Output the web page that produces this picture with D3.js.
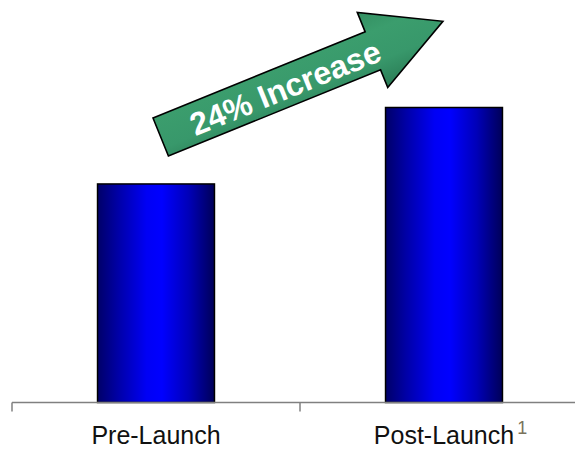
<!DOCTYPE html>
<html>
<head>
<meta charset="utf-8">
<script src="https://cdn.jsdelivr.net/npm/d3@7"></script>
<style>
  html, body { margin: 0; padding: 0; background: #ffffff; }
  svg { display: block; }
</style>
</head>
<body>
<svg id="chart" width="575" height="450"></svg>
<script>
// Launch comparison data
const categories = ["Pre-Launch", "Post-Launch"];
const values = [100, 124];
const footnotes = ["", "1"];
const calloutText = "24% Increase";

const svg = d3.select("#chart");
const defs = svg.append("defs");

// Horizontal shading for the cylinder-like bars
const barGrad = defs.append("linearGradient")
  .attr("id", "barGrad").attr("x1", "0%").attr("x2", "100%").attr("y1", "0%").attr("y2", "0%");
[[0, "#000068"], [0.18, "#0000a8"], [0.42, "#0000f5"], [0.55, "#0000ff"], [0.78, "#0000b8"], [1, "#000058"]]
  .forEach(([o, c]) => barGrad.append("stop").attr("offset", o).attr("stop-color", c));

// Green shading for the callout arrow
const arrowGrad = defs.append("linearGradient")
  .attr("id", "arrowGrad").attr("gradientUnits", "userSpaceOnUse")
  .attr("x1", 0).attr("y1", -40).attr("x2", 0).attr("y2", 80);
[[0, "#2c8358"], [0.35, "#3b9d6d"], [0.6, "#38986b"], [1, "#206846"]]
  .forEach(([o, c]) => arrowGrad.append("stop").attr("offset", o).attr("stop-color", c));

const x = d3.scaleBand()
  .domain(categories)
  .range([12, 588])
  .paddingInner(0.594)
  .paddingOuter(0.297);

const y = d3.scaleLinear()
  .domain([31.4, 124])
  .range([402.5, 107.5]);

// Bars
svg.append("g").selectAll("rect")
  .data(categories)
  .join("rect")
  .attr("x", d => x(d))
  .attr("y", (d, i) => y(values[i]))
  .attr("width", x.bandwidth())
  .attr("height", (d, i) => y.range()[0] - y(values[i]))
  .attr("fill", "url(#barGrad)")
  .attr("stroke", "#000")
  .attr("stroke-width", 1.5);

// Category axis
const axisY = y.range()[0];
const axis = svg.append("g").attr("stroke", "#808080").attr("stroke-width", 1.5);
axis.append("line")
  .attr("x1", x.range()[0]).attr("x2", 580)
  .attr("y1", axisY).attr("y2", axisY);
d3.range(categories.length + 1).forEach(i => {
  const tx = x.range()[0] + i * x.step();
  axis.append("line")
    .attr("x1", tx).attr("x2", tx)
    .attr("y1", axisY).attr("y2", axisY + 9);
});

// Category labels with optional footnote marker
categories.forEach((c, i) => {
  const cx = x(c) + x.bandwidth() / 2;
  const label = svg.append("text")
    .attr("x", cx).attr("y", 444)
    .attr("text-anchor", "middle")
    .attr("font-family", "Liberation Sans, Arial, sans-serif")
    .attr("font-size", 25)
    .attr("fill", "#111111")
    .text(c);
  if (footnotes[i]) {
    const bb = label.node().getBBox();
    svg.append("text")
      .attr("x", bb.x + bb.width + 3).attr("y", 434)
      .attr("font-family", "Liberation Sans, Arial, sans-serif")
      .attr("font-size", 18)
      .attr("fill", "#7a735c")
      .text(footnotes[i]);
  }
});

// Callout arrow
const shaftLen = 229, shaftW = 41, headLen = 76, headTop = -21, headBottom = 60;
const arrow = svg.append("g")
  .attr("transform", `translate(${x(categories[0]) + x.bandwidth() / 2 - 3},118) rotate(-22.1)`);
arrow.append("path")
  .attr("d", d3.line()([
    [0, 0], [shaftLen, 0], [shaftLen, headTop], [shaftLen + headLen, (headTop + headBottom) / 2],
    [shaftLen, headBottom], [shaftLen, shaftW], [0, shaftW]
  ]) + "Z")
  .attr("fill", "url(#arrowGrad)")
  .attr("stroke", "#000")
  .attr("stroke-width", 1.6)
  .attr("stroke-linejoin", "miter");
arrow.append("text")
  .attr("x", 134).attr("y", 33)
  .attr("text-anchor", "middle")
  .attr("font-family", "Liberation Sans, Arial, sans-serif")
  .attr("font-weight", "bold")
  .attr("font-size", 32)
  .attr("fill", "#ffffff")
  .text(calloutText);
</script>
</body>
</html>
